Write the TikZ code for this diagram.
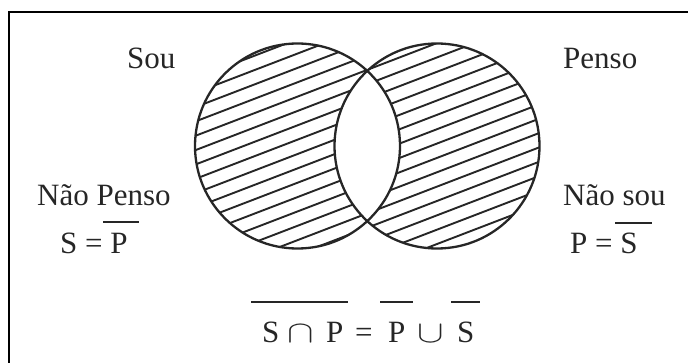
\documentclass[tikz,border=0pt]{standalone}
\usepackage{fontspec}
\usepackage{graphicx}
\setmainfont{Liberation Serif}
\begin{document}
\begin{tikzpicture}[x=1pt,y=1pt,
  lbl/.style={anchor=base west,inner sep=0pt,font=\fontsize{31}{36}\selectfont,text=black!85},
  bar/.style={line width=2.6pt,black!85},
  ring/.style={line width=2.3pt,black!85},
  hatch/.style={line width=1.9pt,black!85}]
\useasboundingbox (0,0) rectangle (688,362);
\draw[line width=2.4pt] (9,-20) |- (720,350);
\coordinate (cs) at (297.5,216);
\coordinate (cp) at (437,216);
% hatching of the symmetric difference
\begin{scope}[even odd rule]
  \clip (cs) circle (102.5) (cp) circle (102.5);
  \begin{scope}[rotate around={21:(367,216)}]
    \foreach \k in {-10,...,10}
      \draw[hatch] (150,216+\k*13.4+4) -- (590,216+\k*13.4+4);
  \end{scope}
\end{scope}
\draw[ring] (cs) circle (102.5);
\draw[ring] (cp) circle (102.5);
% labels
\node[lbl] (sou) at (127,293) {Sou};
\node[lbl] (penso) at (563,293) {Penso};
\node[lbl] (naopenso) at (37,157) {Não Penso};
\node[lbl] (eqs) at (60,109) {S = P};
\draw[bar] (103,140) -- (139,140);
\node[lbl] (naosou) at (563,157) {Não sou};
\node[lbl] (eqp) at (570,109) {P = S};
\draw[bar] (615,139) -- (652,139);
\node[lbl] (law) at (262,20) {\makebox[25pt][l]{S}\makebox[39pt][l]{\scalebox{1.6}[1.25]{$\cap$}}\makebox[29pt][l]{P}\makebox[33pt][l]{=}\makebox[29pt][l]{P}\makebox[40pt][l]{\scalebox{1.6}[1.25]{$\cup$}}S};
\draw[bar] (251,60) -- (348,60);
\draw[bar] (380,60) -- (413,60);
\draw[bar] (451,60) -- (480,60);
\end{tikzpicture}
\end{document}
